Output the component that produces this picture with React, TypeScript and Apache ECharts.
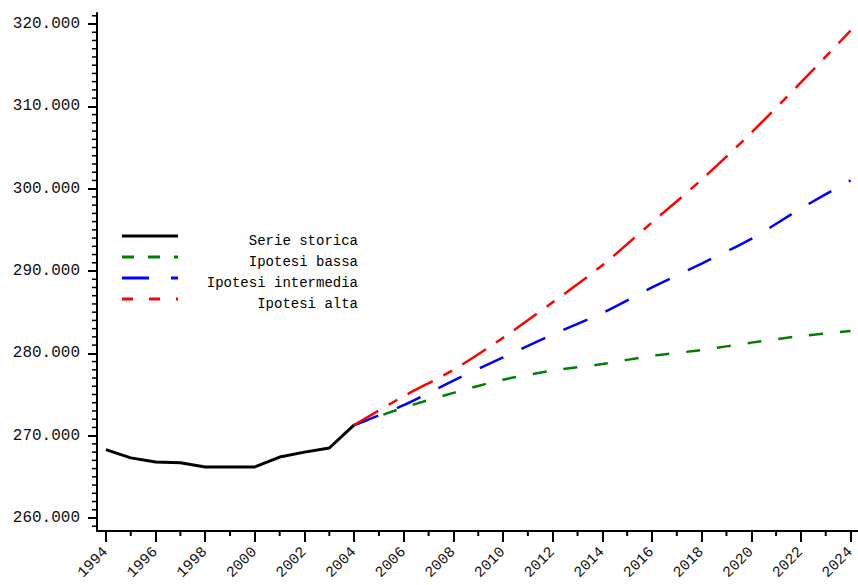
import React, { useEffect, useRef } from "react";
import * as echarts from "echarts";

const historicYears = [1994, 1995, 1996, 1997, 1998, 1999, 2000, 2001, 2002, 2003, 2004];
const historicValues = [268.3, 267.3, 266.8, 266.7, 266.2, 266.2, 266.2, 267.4, 268.0, 268.5, 271.3];

const projYears = [2004, 2006, 2008, 2010, 2012, 2014, 2016, 2018, 2020, 2022, 2024];
const lowValues = [271.3, 273.4, 275.2, 276.8, 277.9, 278.7, 279.7, 280.4, 281.3, 282.1, 282.7];
const midValues = [271.3, 273.7, 276.7, 279.5, 282.3, 284.9, 288.0, 290.9, 293.9, 297.6, 301.0];
const highValues = [271.3, 274.8, 278.0, 281.9, 286.2, 290.7, 295.9, 301.1, 306.8, 312.9, 319.2];

const seriesNames = ["Serie storica", "Ipotesi bassa", "Ipotesi intermedia", "Ipotesi alta"];
const seriesColors = ["#000000", "#008000", "#0000ff", "#ff0000"];

const yLabelValues = [260, 270, 280, 290, 300, 310, 320];
const yMinorValues = Array.from({ length: 63 }, (_, i) => 259 + i).filter((v) => v % 10 !== 0);
const xLabelValues = [1994, 1996, 1998, 2000, 2002, 2004, 2006, 2008, 2010, 2012, 2014, 2016, 2018, 2020, 2022, 2024];
const xMinorValues = Array.from({ length: 15 }, (_, i) => 1995 + 2 * i);

const X_MIN = 1993.64;
const X_MAX = 2024.3;
const Y_MIN = 258.42;
const Y_MAX = 321.34;

const FONT = "Liberation Mono";

export default function App() {
  const ref = useRef<HTMLDivElement>(null);
  useEffect(() => {
    if (!ref.current) return;
    const chart = echarts.init(ref.current, null, { renderer: "svg" });
    const pair = (xs: number[], ys: number[]) => xs.map((x, i) => [x, ys[i]]);
    const axisCommon = {
      type: "value" as const,
      axisLine: { show: true, onZero: false, lineStyle: { color: "#000", width: 2 } },
      splitLine: { show: false },
    };
    const legendRows = [236, 257, 278, 299];
    const legendDash: any[] = ["solid", [12, 14], [27, 22], [11, 16]];
    const graphic: any[] = [];
    legendRows.forEach((y, i) => {
      graphic.push({
        type: "line",
        shape: { x1: 122, y1: y, x2: 178, y2: y },
        style: { stroke: seriesColors[i], lineWidth: 3, lineDash: legendDash[i] === "solid" ? null : legendDash[i] },
      });
      graphic.push({
        type: "text",
        x: 358,
        y: y + 5,
        style: {
          text: seriesNames[i],
          font: `14px "${FONT}"`,
          fill: "#000",
          textAlign: "right",
          textVerticalAlign: "middle",
        },
      });
    });

    chart.setOption({
      animation: false,
      backgroundColor: "#fff",
      grid: { left: 97, right: 0, top: 13, bottom: 54, containLabel: false },
      xAxis: {
        ...axisCommon,
        min: X_MIN,
        max: X_MAX,
        axisTick: { show: true, customValues: xLabelValues, length: 11, lineStyle: { color: "#000", width: 2 } },
        axisLabel: {
          customValues: xLabelValues,
          rotate: 45,
          margin: 19,
          fontFamily: FONT,
          fontSize: 15,
          color: "#111",
          formatter: (v: number) => String(v),
        },
      },
      yAxis: {
        ...axisCommon,
        min: Y_MIN,
        max: Y_MAX,
        axisTick: { show: true, customValues: yLabelValues, length: 9, lineStyle: { color: "#000", width: 2 } },
        axisLabel: {
          customValues: yLabelValues,
          margin: 17,
          fontFamily: FONT,
          fontSize: 16,
          color: "#111",
          formatter: (v: number) => v.toFixed(0) + ".000",
        },
      },
      graphic,
      series: [
        {
          name: seriesNames[0],
          type: "line",
          data: pair(historicYears, historicValues),
          showSymbol: false,
          lineStyle: { color: seriesColors[0], width: 3 },
          z: 2,
        },
        {
          name: seriesNames[1],
          type: "line",
          data: pair(projYears, lowValues),
          showSymbol: false,
          smooth: 0.3,
          lineStyle: { color: seriesColors[1], width: 2.5, type: [14, 17] },
          z: 3,
        },
        {
          name: seriesNames[2],
          type: "line",
          data: pair(projYears, midValues),
          showSymbol: false,
          smooth: 0.3,
          lineStyle: { color: seriesColors[2], width: 2.5, type: [26, 20] },
          z: 4,
        },
        {
          name: seriesNames[3],
          type: "line",
          data: pair(projYears, highValues),
          showSymbol: false,
          smooth: 0.3,
          lineStyle: { color: seriesColors[3], width: 2.5, type: [28, 12, 10, 12] },
          z: 5,
        },
        {
          name: "yMinorTicks",
          type: "custom",
          silent: true,
          clip: false,
          z: 10,
          data: yMinorValues.map((v) => [X_MIN, v]),
          renderItem: (_p: any, api: any) => {
            const c = api.coord([api.value(0), api.value(1)]);
            return {
              type: "line",
              shape: { x1: c[0] - 5, y1: c[1], x2: c[0], y2: c[1] },
              style: { stroke: "#000", lineWidth: 1.5 },
            };
          },
        },
        {
          name: "xMinorTicks",
          type: "custom",
          silent: true,
          clip: false,
          z: 10,
          data: xMinorValues.map((v) => [v, Y_MIN]),
          renderItem: (_p: any, api: any) => {
            const c = api.coord([api.value(0), api.value(1)]);
            return {
              type: "line",
              shape: { x1: c[0], y1: c[1], x2: c[0], y2: c[1] + 5 },
              style: { stroke: "#000", lineWidth: 2 },
            };
          },
        },
      ],
    });

    return () => chart.dispose();
  }, []);
  return (
    <div
      ref={ref}
      style={{ position: "absolute", left: 0, top: 0, width: 858, height: 585 }}
    />
  );
}
